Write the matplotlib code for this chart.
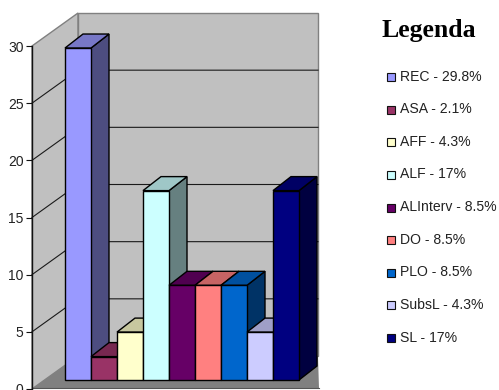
import matplotlib
matplotlib.use("Agg")
import matplotlib.pyplot as plt
from matplotlib.patches import Rectangle

categories = ["REC", "ASA", "AFF", "ALF", "ALInterv", "DO", "PLO", "SubsL", "SL"]
values = [29.8, 2.1, 4.3, 17, 8.5, 8.5, 8.5, 4.3, 17]
value_labels = ["29.8%", "2.1%", "4.3%", "17%", "8.5%", "8.5%", "8.5%", "4.3%", "17%"]
colors = ["#9999FF", "#993366", "#FFFFCC", "#CCFFFF", "#660066",
          "#FF8080", "#0066CC", "#CCCCFF", "#000080"]
y_ticks = [0, 5, 10, 15, 20, 25, 30]

W, H = 499, 390
AX_L, AX_R, AX_T, AX_B = 32, 319, 46, 389
CAT_PX = 26.0
UNIT_PX = (AX_B - AX_T) / 30
DEPTH_X, DEPTH_Y = 46, 33

fig = plt.figure(figsize=(W / 100, H / 100), dpi=100, facecolor="white")
ax = fig.add_axes([AX_L / W, 1 - AX_B / H, (AX_R - AX_L) / W, (AX_B - AX_T) / H])
ax.set_xlim(0, (AX_R - AX_L) / CAT_PX)
ax.set_ylim(0, 30)
ax.patch.set_visible(False)
for name in ("top", "right", "bottom"):
    ax.spines[name].set_visible(False)
ax.spines["left"].set_linewidth(1.0)
ax.spines["left"].set_color("#111111")
ax.spines["left"].set_zorder(1)
ax.set_xticks([])
ax.set_yticks(y_ticks)
ax.tick_params(axis="y", length=4.5, width=0.8, pad=1.5, labelsize=10, color="#111111")
for t in ax.get_yticklabels():
    t.set_family("Liberation Sans")
    t.set_color("#222222")


def project(x, v, d):
    """Oblique projection: category position, value and depth (0 front, 1 back)."""
    return x + d * DEPTH_X / CAT_PX, v + d * DEPTH_Y / UNIT_PX


def poly(points, face, edge, lw=1.0, z=2):
    xs, ys = zip(*points)
    ax.fill(xs, ys, facecolor=face, edgecolor=edge, linewidth=lw, zorder=z,
            clip_on=False, joinstyle="miter")


def shade(hex_color, f):
    rgb = matplotlib.colors.to_rgb(hex_color)
    return tuple(c * f for c in rgb)


WALL_X = 240 / CAT_PX
# Walls and floor
poly([project(0, 0, 0), project(0, 30, 0), project(0, 30, 1), project(0, 0, 1)],
     "#C0C0C0", "#808080", z=0)
poly([project(0, 0, 1), project(0, 30, 1), project(WALL_X, 30, 1), project(WALL_X, 0, 1)],
     "#C0C0C0", "#808080", z=0)
floor_right = (AX_R - AX_L) / CAT_PX
poly([project(0, 0, 0), project(0, 0, 1), project(WALL_X, 0, 1), (floor_right, 0.05)],
     "#808080", "none", lw=0, z=0.5)
ax.plot([0, floor_right], [0.1, 0.1], color="#555555", lw=0.8, zorder=0.6, clip_on=False)

# Gridlines on the side wall and back wall
for tick in y_ticks[1:-1]:
    a = project(0, tick, 0)
    b = project(0, tick, 1)
    c = project(WALL_X, tick, 1)
    ax.plot([a[0], b[0], c[0]], [a[1], b[1], c[1]], color="#1a1a1a", lw=0.8,
            zorder=1, clip_on=False, solid_joinstyle="miter")

# Columns
BAR_LEFT = 33 / CAT_PX
BAR_D0 = 9 / DEPTH_Y
BAR_SCALE = 11.14 / UNIT_PX
BAR_W = 1.0
for i, (val, col) in enumerate(zip(values, colors)):
    x0 = BAR_LEFT + i * BAR_W
    x1 = x0 + BAR_W
    h = val * BAR_SCALE
    base = BAR_D0 * DEPTH_Y / UNIT_PX
    top = base + h
    dx = 18 / CAT_PX
    dy = 14 / UNIT_PX
    poly([(x1, base), (x1, top), (x1 + dx, top + dy), (x1 + dx, base + dy)],
         shade(col, 0.5), "black", z=3 + i)
    poly([(x0, top), (x1, top), (x1 + dx, top + dy), (x0 + dx, top + dy)],
         shade(col, 0.78), "black", z=3 + i)
    poly([(x0, base), (x1, base), (x1, top), (x0, top)],
         col, "black", z=3 + i)

# Legend
fig.text(381 / W, 1 - 31 / H, "Legenda", family="Liberation Serif", weight="bold",
         fontsize=18.5, va="center", ha="left", color="black")
for i, (name, label, col) in enumerate(zip(categories, value_labels, colors)):
    yc = 76.7 + i * 32.6
    fig.add_artist(Rectangle((387 / W, 1 - (yc + 4.5) / H), 8 / W, 8 / H, facecolor=col,
                             edgecolor="#111111", linewidth=0.8,
                             transform=fig.transFigure))
    fig.text(399.5 / W, 1 - yc / H, f"{name} - {label}", family="Liberation Sans",
             fontsize=10.1, va="center", ha="left", color="#222222")

fig.savefig("out.png", dpi=100)
